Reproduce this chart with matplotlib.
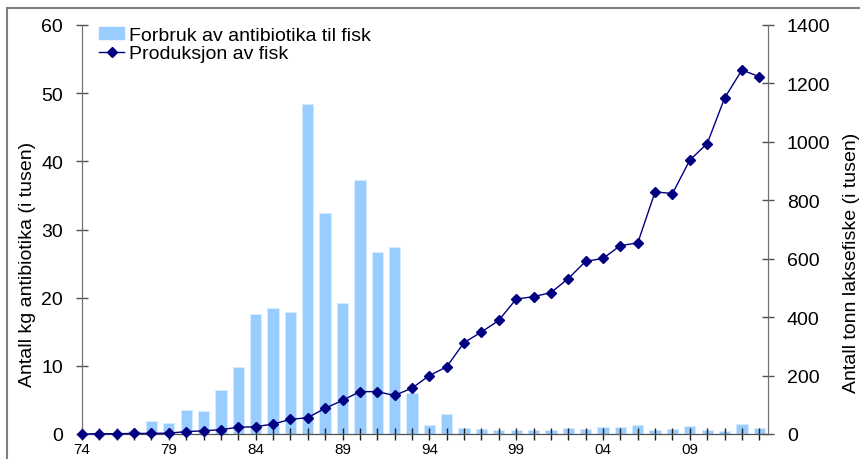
import matplotlib
matplotlib.use("Agg")
import matplotlib.pyplot as plt
from matplotlib.patches import Rectangle, Patch
from matplotlib.lines import Line2D
import numpy as np

plt.rcParams["font.family"] = ["Liberation Sans", "DejaVu Sans"]

# years 1974-2013
years = list(range(1974, 2014))
tick_labels = ["74", "79", "84", "89", "94", "99", "04", "09"]

# kg antibiotika (i tusen)
antibiotika = [
    0.0, 0.0, 0.2, 0.4, 1.9, 1.6, 3.5, 3.4, 6.5, 9.8,
    17.6, 18.5, 17.9, 48.4, 32.4, 19.2, 37.2, 26.7, 27.4, 6.0,
    1.3, 2.9, 0.9, 0.7, 0.55, 0.55, 0.55, 0.55, 0.9, 0.7,
    1.0, 1.0, 1.3, 0.55, 0.8, 1.2, 0.55, 0.4, 1.5, 0.9,
]

# tonn laksefisk (i tusen)
produksjon = [
    0, 1, 1, 2, 2, 3, 8, 11, 15, 23,
    25, 34, 50, 56, 88, 115, 145, 145, 132, 157,
    200, 230, 313, 349, 389, 462, 470, 484, 532, 591,
    601, 645, 654, 829, 823, 938, 994, 1150, 1246, 1223,
]

W, H = 860, 460
fig = plt.figure(figsize=(W / 100, H / 100), dpi=100)

# outer frame of the chart area
fig.patches.append(Rectangle((7 / W, -0.1), 2.0, (H - 9) / H + 0.1,
                             transform=fig.transFigure, fill=False,
                             edgecolor="#808080", lw=1.5))

ax = fig.add_axes([82 / W, 1 - 435 / H, (768 - 82) / W, (435 - 26) / H])
ax2 = ax.twinx()

x = np.arange(len(years))
ax.bar(x, antibiotika, width=0.65, color="#99CCFF", edgecolor="#D6EBFF", lw=0.6)
ax2.plot(x, produksjon, color="#000080", lw=1.0, marker="D", ms=5.5,
         mec="#000080", mfc="#000080", clip_on=False, zorder=5)

ax.set_xlim(0, 39.5)
ax.set_ylim(0, 60)
ax2.set_ylim(0, 1400)
ax.set_yticks(range(0, 61, 10))
ax2.set_yticks(range(0, 1401, 200))

ax.set_xticks(x, minor=True)
ax.set_xticks(x[::5])
ax.set_xticklabels(tick_labels)

for a in (ax, ax2):
    a.spines["top"].set_visible(False)
    a.spines["left"].set_color("#707070")
    a.spines["right"].set_color("#707070")
    a.spines["bottom"].set_color("#505050")

ax.tick_params(axis="y", direction="inout", length=9, width=1, color="#505050",
               labelsize=14, pad=9)
ax2.tick_params(axis="y", direction="inout", length=9, width=1, color="#505050",
                labelsize=14, pad=9)
ax.tick_params(axis="x", which="both", direction="inout", length=9, width=1,
               color="#202020", labelsize=11, pad=1)

fig.text(27 / W, 1 - 264 / H, "Antall kg antibiotika (i tusen)", rotation=90,
         ha="center", va="center", fontsize=14)
fig.text(852 / W, 1 - 263 / H, "Antall tonn laksefiske (i tusen)", rotation=90,
         ha="center", va="center", fontsize=14)

handles = [
    Patch(facecolor="#99CCFF", edgecolor="#99CCFF"),
    Line2D([], [], color="#000080", lw=1.0, marker="D", ms=5, mfc="#000080"),
]
ax2.legend(handles, ["Forbruk av antibiotika til fisk", "Produksjon av fisk"],
           loc="upper left", bbox_to_anchor=(99 / W, 1 - 28 / H),
           bbox_transform=fig.transFigure, frameon=False, fontsize=14,
           borderpad=0, borderaxespad=0, handlelength=1.3, handleheight=0.55,
           handletextpad=0.22, labelspacing=0.05)

fig.savefig("out.png", dpi=100)
